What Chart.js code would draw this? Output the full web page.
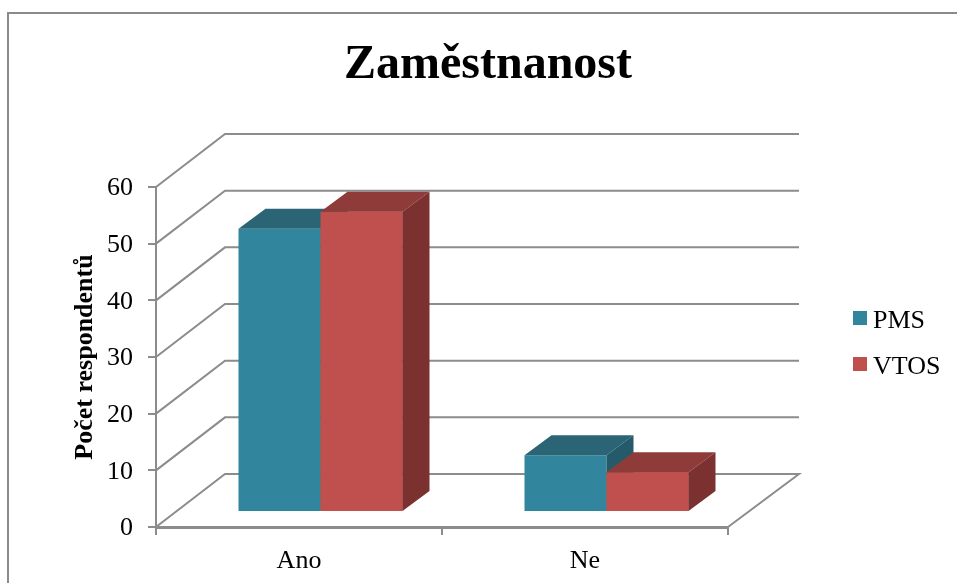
<!DOCTYPE html>
<html lang="cs">
<head>
  <meta charset="UTF-8" />
  <title>Zaměstnanost</title>
  <script src="https://cdn.jsdelivr.net/npm/chart.js"></script>
  <style>
    html, body { margin: 0; padding: 0; background: #fff; overflow: hidden; }
    canvas { display: block; }
    #frame { position: absolute; left: 7px; top: 12px; width: 1000px; height: 600px; border: 2px solid #8a8a8a; }
  </style>
</head>
<body>
  <div id="frame"></div>
  <canvas id="chart" width="957" height="583" style="position:relative"></canvas>

  <script>
    const categories = ['Ano', 'Ne'];
    const pmsValues = [50, 10];
    const vtosValues = [53, 7];
    const yTicks = [0, 10, 20, 30, 40, 50, 60];

    const serif = "'Liberation Serif', serif";
    const gray = '#8c8c8c';
    const colors = {
      PMS: { front: '#31859c', top: '#2a6475', side: '#245a6a' },
      VTOS: { front: '#c0504d', top: '#8f3b39', side: '#7a3130' }
    };

    // fake perspective: walls and bars are pushed back from the front plane
    const wallDx = 69, wallDxRight = 71, wallDy = 53;
    const barShiftX = 21.5, barShiftY = 15;
    const barDepthX = 27, barDepthY = 20;

    function poly(ctx, pts, fill) {
      ctx.beginPath();
      pts.forEach((p, i) => i ? ctx.lineTo(p[0], p[1]) : ctx.moveTo(p[0], p[1]));
      ctx.closePath();
      ctx.fillStyle = fill;
      ctx.fill();
    }

    function drawBarSides(ctx, meta) {
      const c = colors[meta.label];
      meta.data.forEach(bar => {
        const p = bar.getProps(['x', 'y', 'base', 'width'], true);
        const l = p.x - p.width / 2, r = p.x + p.width / 2;
        poly(ctx, [[l, p.y], [l + barDepthX, p.y - barDepthY], [r + barDepthX, p.y - barDepthY], [r, p.y]], c.top);
        poly(ctx, [[r, p.y], [r + barDepthX, p.y - barDepthY], [r + barDepthX, p.base - barDepthY], [r, p.base]], c.side);
      });
    }

    const box3d = {
      id: 'box3d',
      beforeDatasetsDraw(chart) {
        const { ctx, scales: { x, y } } = chart;
        ctx.save();
        ctx.strokeStyle = gray;
        ctx.lineWidth = 2;
        yTicks.forEach(v => {
          const py = y.getPixelForValue(v);
          ctx.beginPath();
          ctx.moveTo(x.left, py);
          ctx.lineTo(x.left + wallDx, py - wallDy);
          ctx.lineTo(x.right + wallDxRight, py - wallDy);
          if (v === 0) ctx.lineTo(x.right, py);
          ctx.stroke();
        });
        ctx.restore();
        ctx.save();
        ctx.translate(barShiftX, -barShiftY);
      },
      afterDatasetsDraw(chart) {
        // chart.js paints the last dataset first, the red front has to cover the teal side
        const ctx = chart.ctx;
        const pms = chart.getDatasetMeta(0), vtos = chart.getDatasetMeta(1);
        drawBarSides(ctx, pms);
        vtos.data.forEach(bar => bar.draw(ctx));
        drawBarSides(ctx, vtos);
        ctx.restore();
      },
      afterDraw(chart) {
        // legend, the text sits closer to the swatch than the built-in one allows
        const ctx = chart.ctx;
        ctx.save();
        ctx.font = '26px ' + serif;
        ctx.textBaseline = 'alphabetic';
        chart.data.datasets.forEach((ds, i) => {
          const top = 311 + i * 46;
          ctx.fillStyle = ds.backgroundColor;
          ctx.fillRect(853, top, 14, 14);
          ctx.fillStyle = '#000';
          ctx.fillText(ds.label, 873, top + 17);
        });
        ctx.restore();
      }
    };

    new Chart(document.getElementById('chart').getContext('2d'), {
      type: 'bar',
      plugins: [box3d],
      data: {
        labels: categories,
        datasets: [
          { label: 'PMS', data: pmsValues, backgroundColor: colors.PMS.front },
          { label: 'VTOS', data: vtosValues, backgroundColor: colors.VTOS.front }
        ]
      },
      options: {
        responsive: false,
        animation: false,
        layout: { padding: { left: 19 } },
        plugins: {
          legend: { display: false },
          tooltip: { enabled: false },
          title: {
            display: true,
            text: 'Zaměstnanost',
            color: '#000',
            font: { family: serif, size: 48, weight: 'bold' },
            padding: { top: 37, bottom: 92.4 }
          }
        },
        datasets: { bar: { categoryPercentage: 164 / 286, barPercentage: 1 } },
        scales: {
          x: {
            offset: true,
            grid: { color: gray, lineWidth: 2, drawOnChartArea: false, tickLength: 8, offset: true },
            border: { color: gray, width: 3 },
            ticks: { color: '#000', font: { family: serif, size: 26 }, padding: 11, maxRotation: 0 },
            afterFit(scale) { scale.height = 56; }
          },
          y: {
            min: 0,
            max: 60,
            ticks: { stepSize: 10, color: '#000', font: { family: serif, size: 26 }, padding: 15, labelOffset: 1.5 },
            grid: { color: gray, lineWidth: 2, drawOnChartArea: false, tickLength: 8 },
            border: { color: gray, width: 2 },
            title: {
              display: true,
              text: 'Počet respondentů',
              color: '#000',
              font: { family: serif, size: 26, weight: 'bold' },
              padding: { top: 51, bottom: 0 }
            },
            afterFit(scale) { scale.width = 137; }
          },
          // empty axis, only reserves the room on the right for the legend
          spacer: {
            type: 'linear',
            position: 'right',
            display: true,
            grid: { display: false },
            border: { display: false },
            ticks: { display: false },
            afterFit(scale) { scale.width = 229; }
          }
        }
      }
    });
  </script>
</body>
</html>
